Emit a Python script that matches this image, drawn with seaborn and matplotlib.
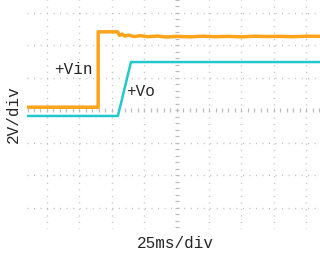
import matplotlib
matplotlib.use("Agg")
import matplotlib.pyplot as plt
import seaborn as sns
import pandas as pd
import numpy as np

# Data (time in ms, 25 ms/div; voltage in V, 2 V/div)
vin_t = [-115.4, -60.5, -60.5, -45.5, -44, -42, -40, -37, -33, -28, -22, -15, -8, 0,
         10, 20, 30, 40, 50, 60, 70, 80, 90, 100, 110.6]
vin_v = [0.2, 0.2, 4.84, 4.84, 4.62, 4.70, 4.58, 4.64, 4.55, 4.60, 4.54, 4.58, 4.52, 4.56,
         4.53, 4.57, 4.54, 4.56, 4.53, 4.57, 4.55, 4.56, 4.54, 4.57, 4.56]
vo_t = [-115.4, -45.3, -35.2, 110.6]
vo_v = [-0.34, -0.34, 2.98, 2.98]

grid_x = [-100, -75, -50, -25, 25, 50, 75, 100]
grid_y = [-6, -4, -2, 2, 4, 6]

labels = {"vin": "+Vin", "vo": "+Vo", "x": "25ms/div", "y": "2V/div"}

sns.set_style("white")
plt.rcParams['font.family'] = ['Liberation Mono', 'DejaVu Sans']

W, H = 320, 256
fig = plt.figure(figsize=(W / 100, H / 100), dpi=100)
ax = fig.add_axes([27 / W, (H - 229) / H, (W - 27) / W, 229 / H])
ax.set_xlim(-115.4, 110.6)
ax.set_ylim(-7.3, 6.8)
for s in ax.spines.values():
    s.set_visible(False)
ax.set_xticks([])
ax.set_yticks([])

dot_col = "#bcbcbc"
ax.vlines(grid_x, -7.3, 6.8, colors=dot_col, linewidth=1.0, linestyles=(0, (0.7, 4.0)), zorder=1)
ax.hlines(grid_y, -115.4, 110.6, colors=dot_col, linewidth=1.0, linestyles=(0, (0.7, 4.0)), zorder=1)
# center axes with minor tick marks
ty = np.arange(-7.2, 6.9, 0.4)
ax.scatter(np.zeros_like(ty), ty, marker="_", s=6, color=dot_col, linewidths=0.9, zorder=1)
tx = np.arange(-115, 111, 5.0)
ax.scatter(tx, np.zeros_like(tx), marker="|", s=6, color=dot_col, linewidths=0.9, zorder=1)

df_in = pd.DataFrame({"t": vin_t, "v": vin_v})
df_o = pd.DataFrame({"t": vo_t, "v": vo_v})
sns.lineplot(data=df_in, x="t", y="v", ax=ax, color="#FFA31A", linewidth=2.5, sort=False,
             estimator=None, zorder=3)
sns.lineplot(data=df_o, x="t", y="v", ax=ax, color="#22C8CC", linewidth=1.8, sort=False,
             estimator=None, zorder=3)
ax.set_xlabel("")
ax.set_ylabel("")

def px(x, y):
    return x / W, 1 - y / H

fs = 11.5
fig.text(*px(73, 70), labels["vin"], ha="center", va="center", fontsize=fs)
fig.text(*px(141, 91), labels["vo"], ha="center", va="center", fontsize=fs)
fig.text(*px(175, 243), labels["x"], ha="center", va="center", fontsize=fs)
fig.text(*px(13, 114), labels["y"], ha="center", va="center", fontsize=fs, rotation=90)

fig.savefig("out.png", dpi=100)
